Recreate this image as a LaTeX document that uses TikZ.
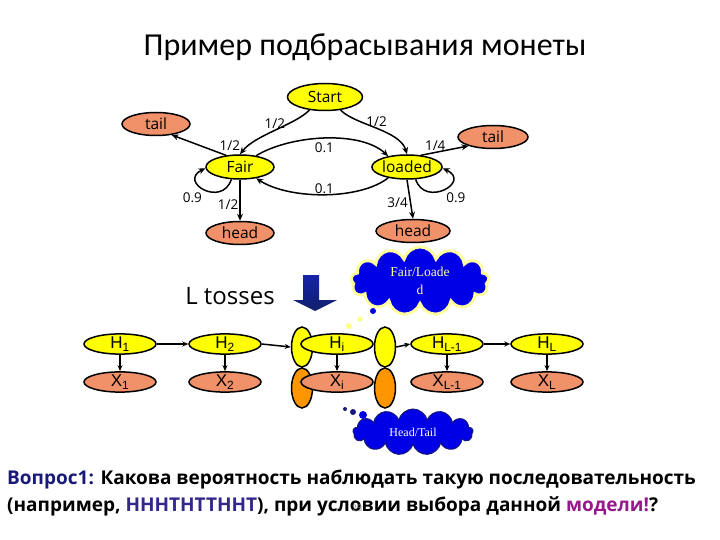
\documentclass[tikz,border=0pt]{standalone}
\usepackage{fontspec}
\setmainfont{Open Sans}
\newfontfamily\titlefont{Carlito}
\newfontfamily\chainfont{Liberation Sans}
\newfontfamily\cloudfont{Liberation Serif}
\usetikzlibrary{shapes.geometric, shapes.symbols, arrows.meta}

\definecolor{coinyellow}{RGB}{255,255,0}
\definecolor{coinsalmon}{RGB}{240,145,105}
\definecolor{linkorange}{RGB}{255,150,0}
\definecolor{cloudblue}{RGB}{0,0,230}
\definecolor{glow}{RGB}{255,255,160}
\definecolor{asknavy}{RGB}{25,25,120}
\definecolor{seqblue}{RGB}{50,40,140}
\definecolor{modelpurple}{RGB}{150,25,140}
\definecolor{tossblue}{RGB}{25,45,150}

\begin{document}
\begin{tikzpicture}[x=1pt, y=-1pt,
	hidden/.style={ellipse, draw, line width=1.5pt, fill=coinyellow, inner sep=0pt, minimum width=68pt, minimum height=24pt, font=\fontsize{15.5}{15.5}\selectfont},
	emitted/.style={hidden, fill=coinsalmon, minimum height=23pt},
	prob/.style={line width=1.5pt, -{Stealth[length=7pt, width=6pt]}},
	lbl/.style={font=\fontsize{13.5}{13.5}\selectfont, inner sep=1pt},
	hnode/.style={ellipse, draw, line width=1.5pt, fill=coinyellow, inner sep=0pt, minimum width=72pt, minimum height=19pt, font=\chainfont\fontsize{17}{17}\selectfont},
	xnode/.style={hnode, fill=coinsalmon},
	linknode/.style={ellipse, draw, line width=1.5pt, inner sep=0pt, minimum width=21pt, minimum height=40pt},
	chainarrow/.style={line width=1.5pt, -{Stealth[length=6pt, width=5pt]}}]
	\useasboundingbox (0,0) rectangle (720,540);
	
	\node[font=\titlefont\fontsize{32}{32}\selectfont] (title) at (365,47) {Пример подбрасывания монеты};
	
	\node[hidden, minimum width=75pt, minimum height=27pt] (Start) at (325,97) {Start};
	\node[emitted] (tailF) at (156,124) {tail};
	\node[hidden] (Fair) at (240,167) {Fair};
	\node[emitted] (headF) at (240,233) {head};
	\node[hidden, minimum width=62pt] (Loaded) at (407,167) {loaded};
	\node[emitted, minimum width=70pt] (tailL) at (493,137) {tail};
	\node[emitted, minimum width=74pt] (headL) at (413,231) {head};
	
	\draw[prob] (Start.220) .. controls (295,125) and (255,135) .. (Fair.north) node[lbl, pos=0.5, above] {1/2};
	\draw[prob] (Start.-40) .. controls (355,125) and (400,130) .. (Loaded.north) node[lbl, pos=0.5, above] {1/2};
	\draw[prob] (Fair.35) .. controls (290,135) and (360,130) .. (Loaded.150) node[lbl, pos=0.5, below, inner sep=4pt] {0.1};
	\draw[prob] (Loaded.210) .. controls (360,200) and (290,200) .. (Fair.-35) node[lbl, pos=0.5, above, inner sep=0pt] {0.1};
	\draw[prob] (Fair.235) .. controls (222,208) and (178,182) .. (Fair.182) node[lbl, pos=0.5, below left, inner sep=2pt] {0.9};
	\draw[prob] (Loaded.-55) .. controls (425,208) and (472,182) .. (Loaded.-2) node[lbl, pos=0.5, below right, inner sep=2pt] {0.9};
	\draw[prob] (Fair.140) -- (tailF.-35) node[lbl, pos=0.15, above right] {1/2};
	\draw[prob] (Fair.south) -- (headF.north) node[lbl, pos=0.6, left] {1/2};
	\draw[prob] (Loaded.40) -- (tailL.200) node[lbl, pos=0.3, above] {1/4};
	\draw[prob] (Loaded.south) -- (headL.north) node[lbl, pos=0.6, left, inner sep=2pt] {3/4};
	
	\node[font=\fontsize{24}{24}\selectfont] (tosses) at (230,296) {L tosses};
	\shade[top color=tossblue!80!blue, bottom color=tossblue!70!black] (303,275) -- (319,275) -- (319,300) -- (337,300) -- (315,311) -- (293,300) -- (303,300) -- cycle;
	
	\node[cloud, cloud puffs=13, aspect=2.4, fill=cloudblue, draw=glow, line width=3pt, minimum width=138pt, minimum height=56pt, align=center, text=glow, font=\cloudfont\fontsize{13.5}{18}\selectfont] (stateCloud) at (420,281) {Fair/Loade\\d};
	\fill[cloudblue] (373,311) circle (3);
	\fill[glow!80!yellow] (360,319) circle (2.5);
	\fill[glow!80!yellow] (349,326) circle (3);
	
	\node[linknode, fill=coinyellow] (linkLH) at (302,347) {};
	\node[linknode, fill=linkorange] (linkLX) at (302,388) {};
	\node[linknode, fill=coinyellow] (linkRH) at (385,347) {};
	\node[linknode, fill=linkorange] (linkRX) at (385,388) {};
	\foreach \xpos/\sub [count=\k] in {120/1, 225/2, 337/i, 447/{L-1}, 547/L}{
		\node[hnode] (H\k) at (\xpos,344) {H\textsubscript{\sub}};
		\node[xnode] (X\k) at (\xpos,382) {X\textsubscript{\sub}};
		\draw[chainarrow] (H\k) -- (X\k);}
	\draw[chainarrow] (H1) -- (H2);
	\draw[chainarrow] (H2.east) -- (linkLH.west);
	\draw[chainarrow] (linkRH.east) -- (H4.west);
	\draw[chainarrow] (H4) -- (H5);
	
	\node[cloud, cloud puffs=13, aspect=2.6, fill=cloudblue, draw=asknavy, line width=1pt, minimum width=120pt, minimum height=46pt, text=white, font=\cloudfont\fontsize{12}{12}\selectfont] (symbolCloud) at (413,432) {Head/Tail};
	\fill[asknavy] (345,409) circle (2);
	\fill[asknavy] (353,412) circle (3);
	\fill[cloudblue] (363,415) circle (4);
	
	\node[anchor=west, inner sep=0pt, font=\bfseries\fontsize{19}{19}\selectfont] (q1) at (7,479) {\textcolor{asknavy}{Вопрос1:} Какова вероятность наблюдать такую последовательность};
	\node[anchor=west, inner sep=0pt, font=\bfseries\fontsize{19}{19}\selectfont] (q2) at (7,506) {(например, \textcolor{seqblue}{HHHTHTTHHT}), при условии выбора данной \textcolor{modelpurple}{модели!}?};
	\node[text=gray, font=\fontsize{9}{9}\selectfont] (pagenum) at (357,508) {23};
\end{tikzpicture}
\end{document}
